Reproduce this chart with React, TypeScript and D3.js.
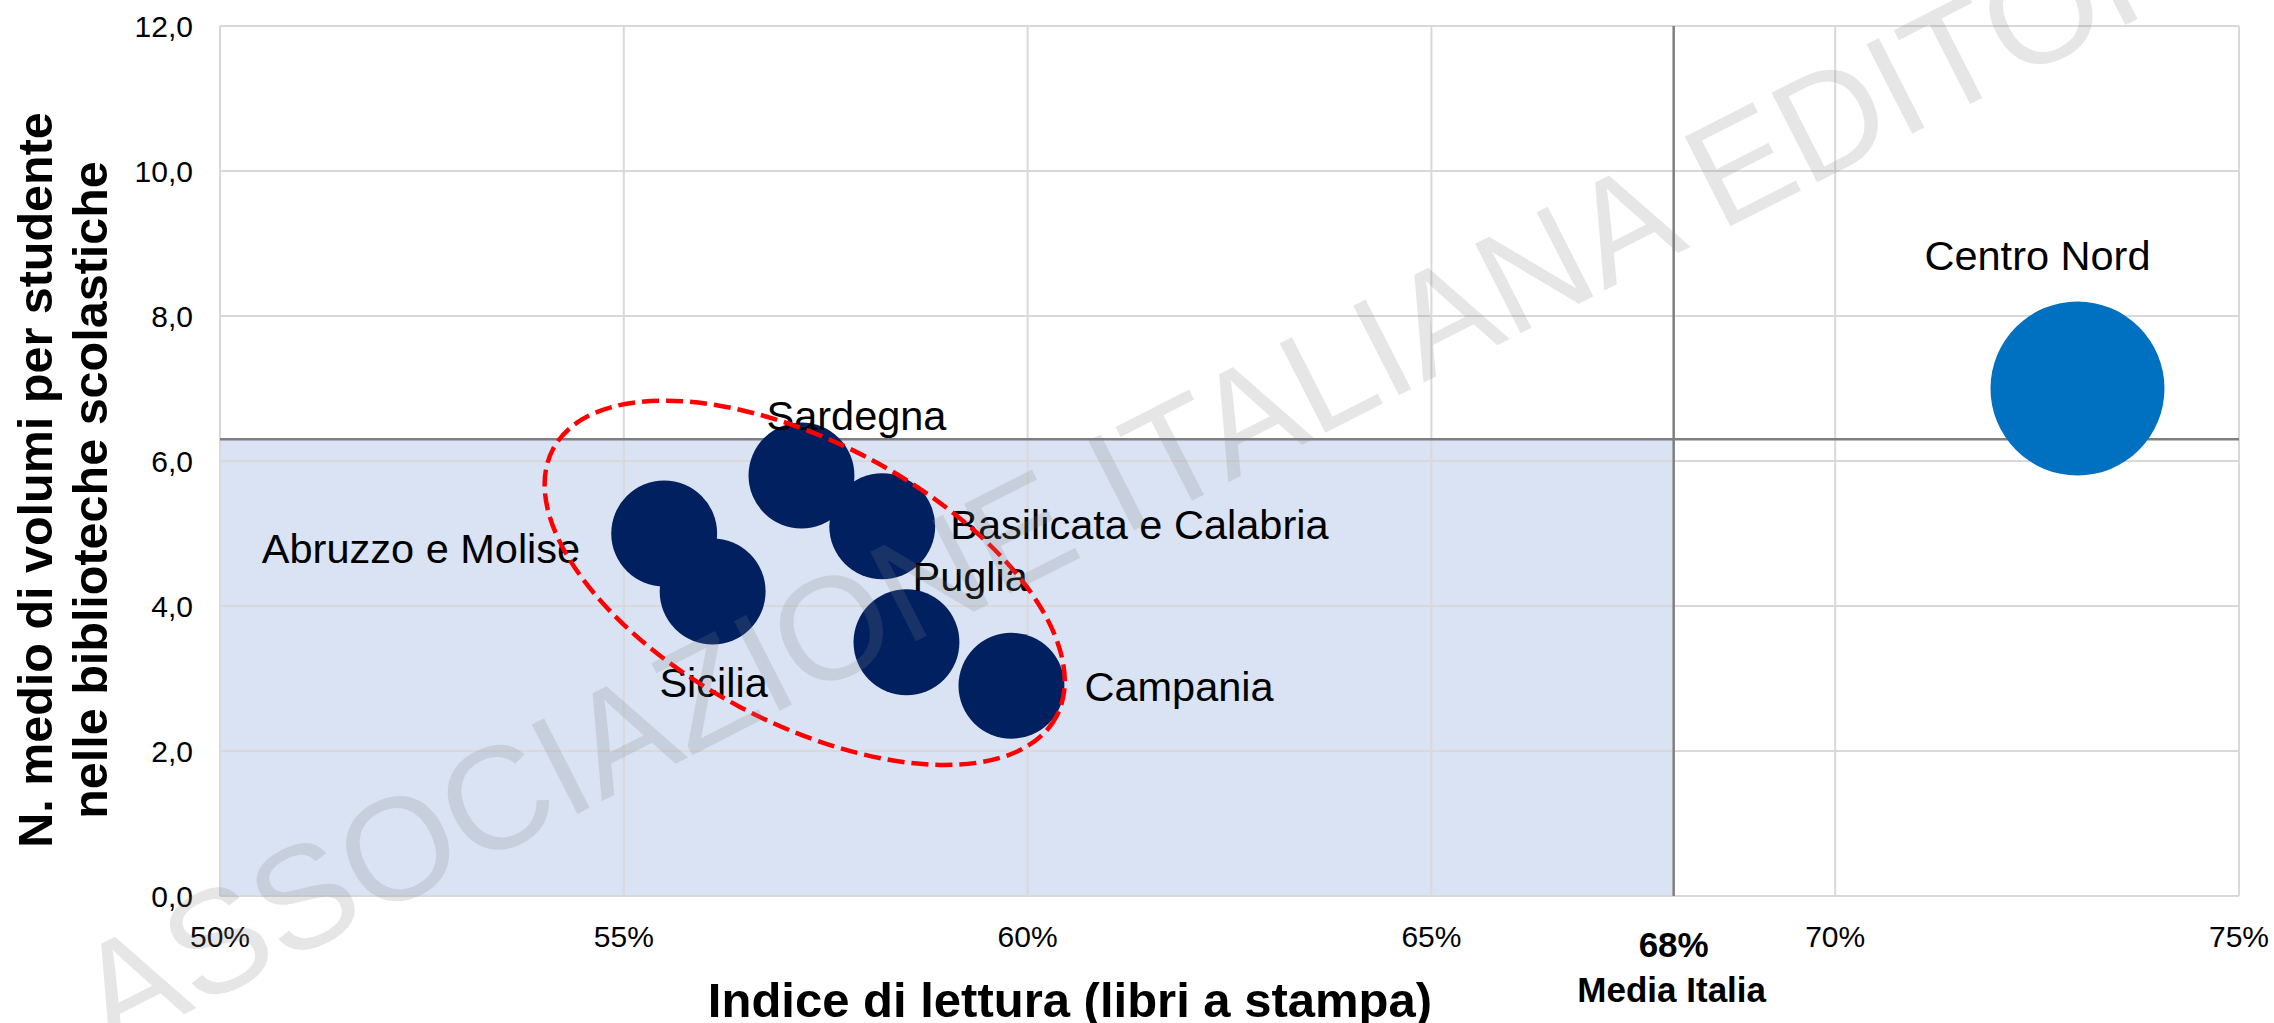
import { useEffect, useRef } from "react";
import * as d3 from "d3";

// --- data ---
const regions = [
  "Abruzzo e Molise",
  "Sicilia",
  "Sardegna",
  "Basilicata e Calabria",
  "Puglia",
  "Campania",
  "Centro Nord",
];
const indiceLettura = [55.5, 56.1, 57.2, 58.2, 58.5, 59.8, 73.0]; // %
const volumiPerStudente = [5.0, 4.2, 5.8, 5.1, 3.5, 2.9, 7.0];
const bubbleSize = [100, 100, 100, 100, 100, 100, 270];
const xTicks = [50, 55, 60, 65, 70, 75];
const yTicks = [0, 2, 4, 6, 8, 10, 12];
const mediaItaliaLettura = 68;
const mediaItaliaVolumi = 6.3;
// centre of the red dashed ring around the southern regions (data units)
const gruppoSud = [57.24, 4.32];

// label placement relative to each bubble centre
const labelPos = [
  { anchor: "end", dx: -84, dy: 29 },
  { anchor: "middle", dx: 1, dy: 105 },
  { anchor: "start", dx: -35, dy: -46 },
  { anchor: "start", dx: 68, dy: 13 },
  { anchor: "start", dx: 6, dy: -51 },
  { anchor: "start", dx: 73, dy: 15 },
  { anchor: "start", dx: -153, dy: -119 },
];

const W = 2274;
const H = 1023;
const margin = { top: 26, right: 35, bottom: 127, left: 220 };
const FONT = "'Liberation Sans', Arial, sans-serif";

const itLocale = d3.formatLocale({
  decimal: ",",
  thousands: ".",
  grouping: [3],
  currency: ["", "€"],
});
const fmtY = itLocale.format(".1f");

export default function App() {
  const ref = useRef(null);

  useEffect(() => {
    document.body.style.margin = "0";
    document.body.style.overflow = "hidden";

    const root = d3.select(ref.current);
    root.selectAll("*").remove();

    const svg = root
      .append("svg")
      .attr("width", W)
      .attr("height", H)
      .style("display", "block")
      .style("font-family", FONT);

    svg.append("rect").attr("width", W).attr("height", H).attr("fill", "#fff");

    const x = d3
      .scaleLinear()
      .domain([50, 75])
      .range([margin.left, W - margin.right]);
    const y = d3
      .scaleLinear()
      .domain([0, 12])
      .range([H - margin.bottom, margin.top]);
    const r = d3.scaleSqrt().domain([0, d3.max(bubbleSize)]).range([0, 87]);

    // shaded quadrant below the Italian averages
    svg
      .append("rect")
      .attr("x", x(50))
      .attr("y", y(mediaItaliaVolumi))
      .attr("width", x(mediaItaliaLettura) - x(50))
      .attr("height", y(0) - y(mediaItaliaVolumi))
      .attr("fill", "#DAE3F3");

    // gridlines
    const grid = svg.append("g").attr("stroke", "#D9D9D9").attr("stroke-width", 2);
    yTicks.forEach((t) => {
      grid
        .append("line")
        .attr("x1", x(50))
        .attr("x2", x(75))
        .attr("y1", y(t))
        .attr("y2", y(t));
    });
    xTicks.forEach((t) => {
      grid
        .append("line")
        .attr("x1", x(t))
        .attr("x2", x(t))
        .attr("y1", y(0))
        .attr("y2", y(12));
    });

    // Italian average lines
    const avg = svg.append("g").attr("stroke", "#7F7F7F").attr("stroke-width", 2.5);
    avg
      .append("line")
      .attr("x1", x(mediaItaliaLettura))
      .attr("x2", x(mediaItaliaLettura))
      .attr("y1", y(12))
      .attr("y2", y(0));
    avg
      .append("line")
      .attr("x1", x(50))
      .attr("x2", x(75))
      .attr("y1", y(mediaItaliaVolumi))
      .attr("y2", y(mediaItaliaVolumi));

    // bubbles
    const pts = regions.map((name, i) => ({
      name,
      cx: x(indiceLettura[i]),
      cy: y(volumiPerStudente[i]),
      rad: r(bubbleSize[i]),
      fill: name === "Centro Nord" ? "#0070C0" : "#002060",
      lp: labelPos[i],
    }));

    svg
      .append("g")
      .selectAll("circle")
      .data(pts)
      .join("circle")
      .attr("cx", (d) => d.cx)
      .attr("cy", (d) => d.cy)
      .attr("r", (d) => d.rad)
      .attr("fill", (d) => d.fill);

    svg
      .append("g")
      .selectAll("text")
      .data(pts)
      .join("text")
      .attr("x", (d) => d.cx + d.lp.dx)
      .attr("y", (d) => d.cy + d.lp.dy)
      .attr("text-anchor", (d) => d.lp.anchor)
      .attr("font-size", 41.5)
      .attr("fill", "#000")
      .text((d) => d.name);

    // tick labels
    svg
      .append("g")
      .selectAll("text")
      .data(yTicks)
      .join("text")
      .attr("x", margin.left - 27)
      .attr("y", (d) => y(d))
      .attr("dy", "0.35em")
      .attr("text-anchor", "end")
      .attr("font-size", 30)
      .text((d) => fmtY(d));

    svg
      .append("g")
      .selectAll("text")
      .data(xTicks)
      .join("text")
      .attr("x", (d) => x(d))
      .attr("y", y(0) + 51)
      .attr("text-anchor", "middle")
      .attr("font-size", 30)
      .text((d) => `${d}%`);

    // Italian average label
    const media = svg
      .append("g")
      .attr("font-weight", "bold")
      .attr("font-size", 35)
      .attr("text-anchor", "middle");
    media
      .append("text")
      .attr("x", x(mediaItaliaLettura))
      .attr("y", y(0) + 61)
      .text(`${mediaItaliaLettura}%`);
    media
      .append("text")
      .attr("x", x(mediaItaliaLettura) - 2)
      .attr("y", y(0) + 106)
      .text("Media Italia");

    // axis titles
    svg
      .append("text")
      .attr("x", 1070)
      .attr("y", 1017)
      .attr("text-anchor", "middle")
      .attr("font-weight", "bold")
      .attr("font-size", 49)
      .text("Indice di lettura (libri a stampa)");

    const yTitle = svg
      .append("g")
      .attr("font-weight", "bold")
      .attr("font-size", 48.5)
      .attr("text-anchor", "middle");
    yTitle
      .append("text")
      .attr("transform", "translate(52,480) rotate(-90)")
      .text("N. medio di volumi per studente");
    yTitle
      .append("text")
      .attr("transform", "translate(107,490) rotate(-90)")
      .text("nelle biblioteche scolastiche");

    // red dashed ring
    svg
      .append("ellipse")
      .attr(
        "transform",
        `translate(${x(gruppoSud[0])},${y(gruppoSud[1])}) rotate(28)`
      )
      .attr("rx", 285)
      .attr("ry", 140)
      .attr("fill", "none")
      .attr("stroke", "#FF0000")
      .attr("stroke-width", 4.5)
      .attr("stroke-dasharray", "17 7");

    // watermark
    svg
      .append("text")
      .attr("transform", "translate(110,1052) rotate(-27)")
      .attr("font-size", 146)
      .attr("fill", "#808080")
      .attr("fill-opacity", 0.2)
      .text("ASSOCIAZIONE ITALIANA EDITORI");
  }, []);

  return <div ref={ref} />;
}
